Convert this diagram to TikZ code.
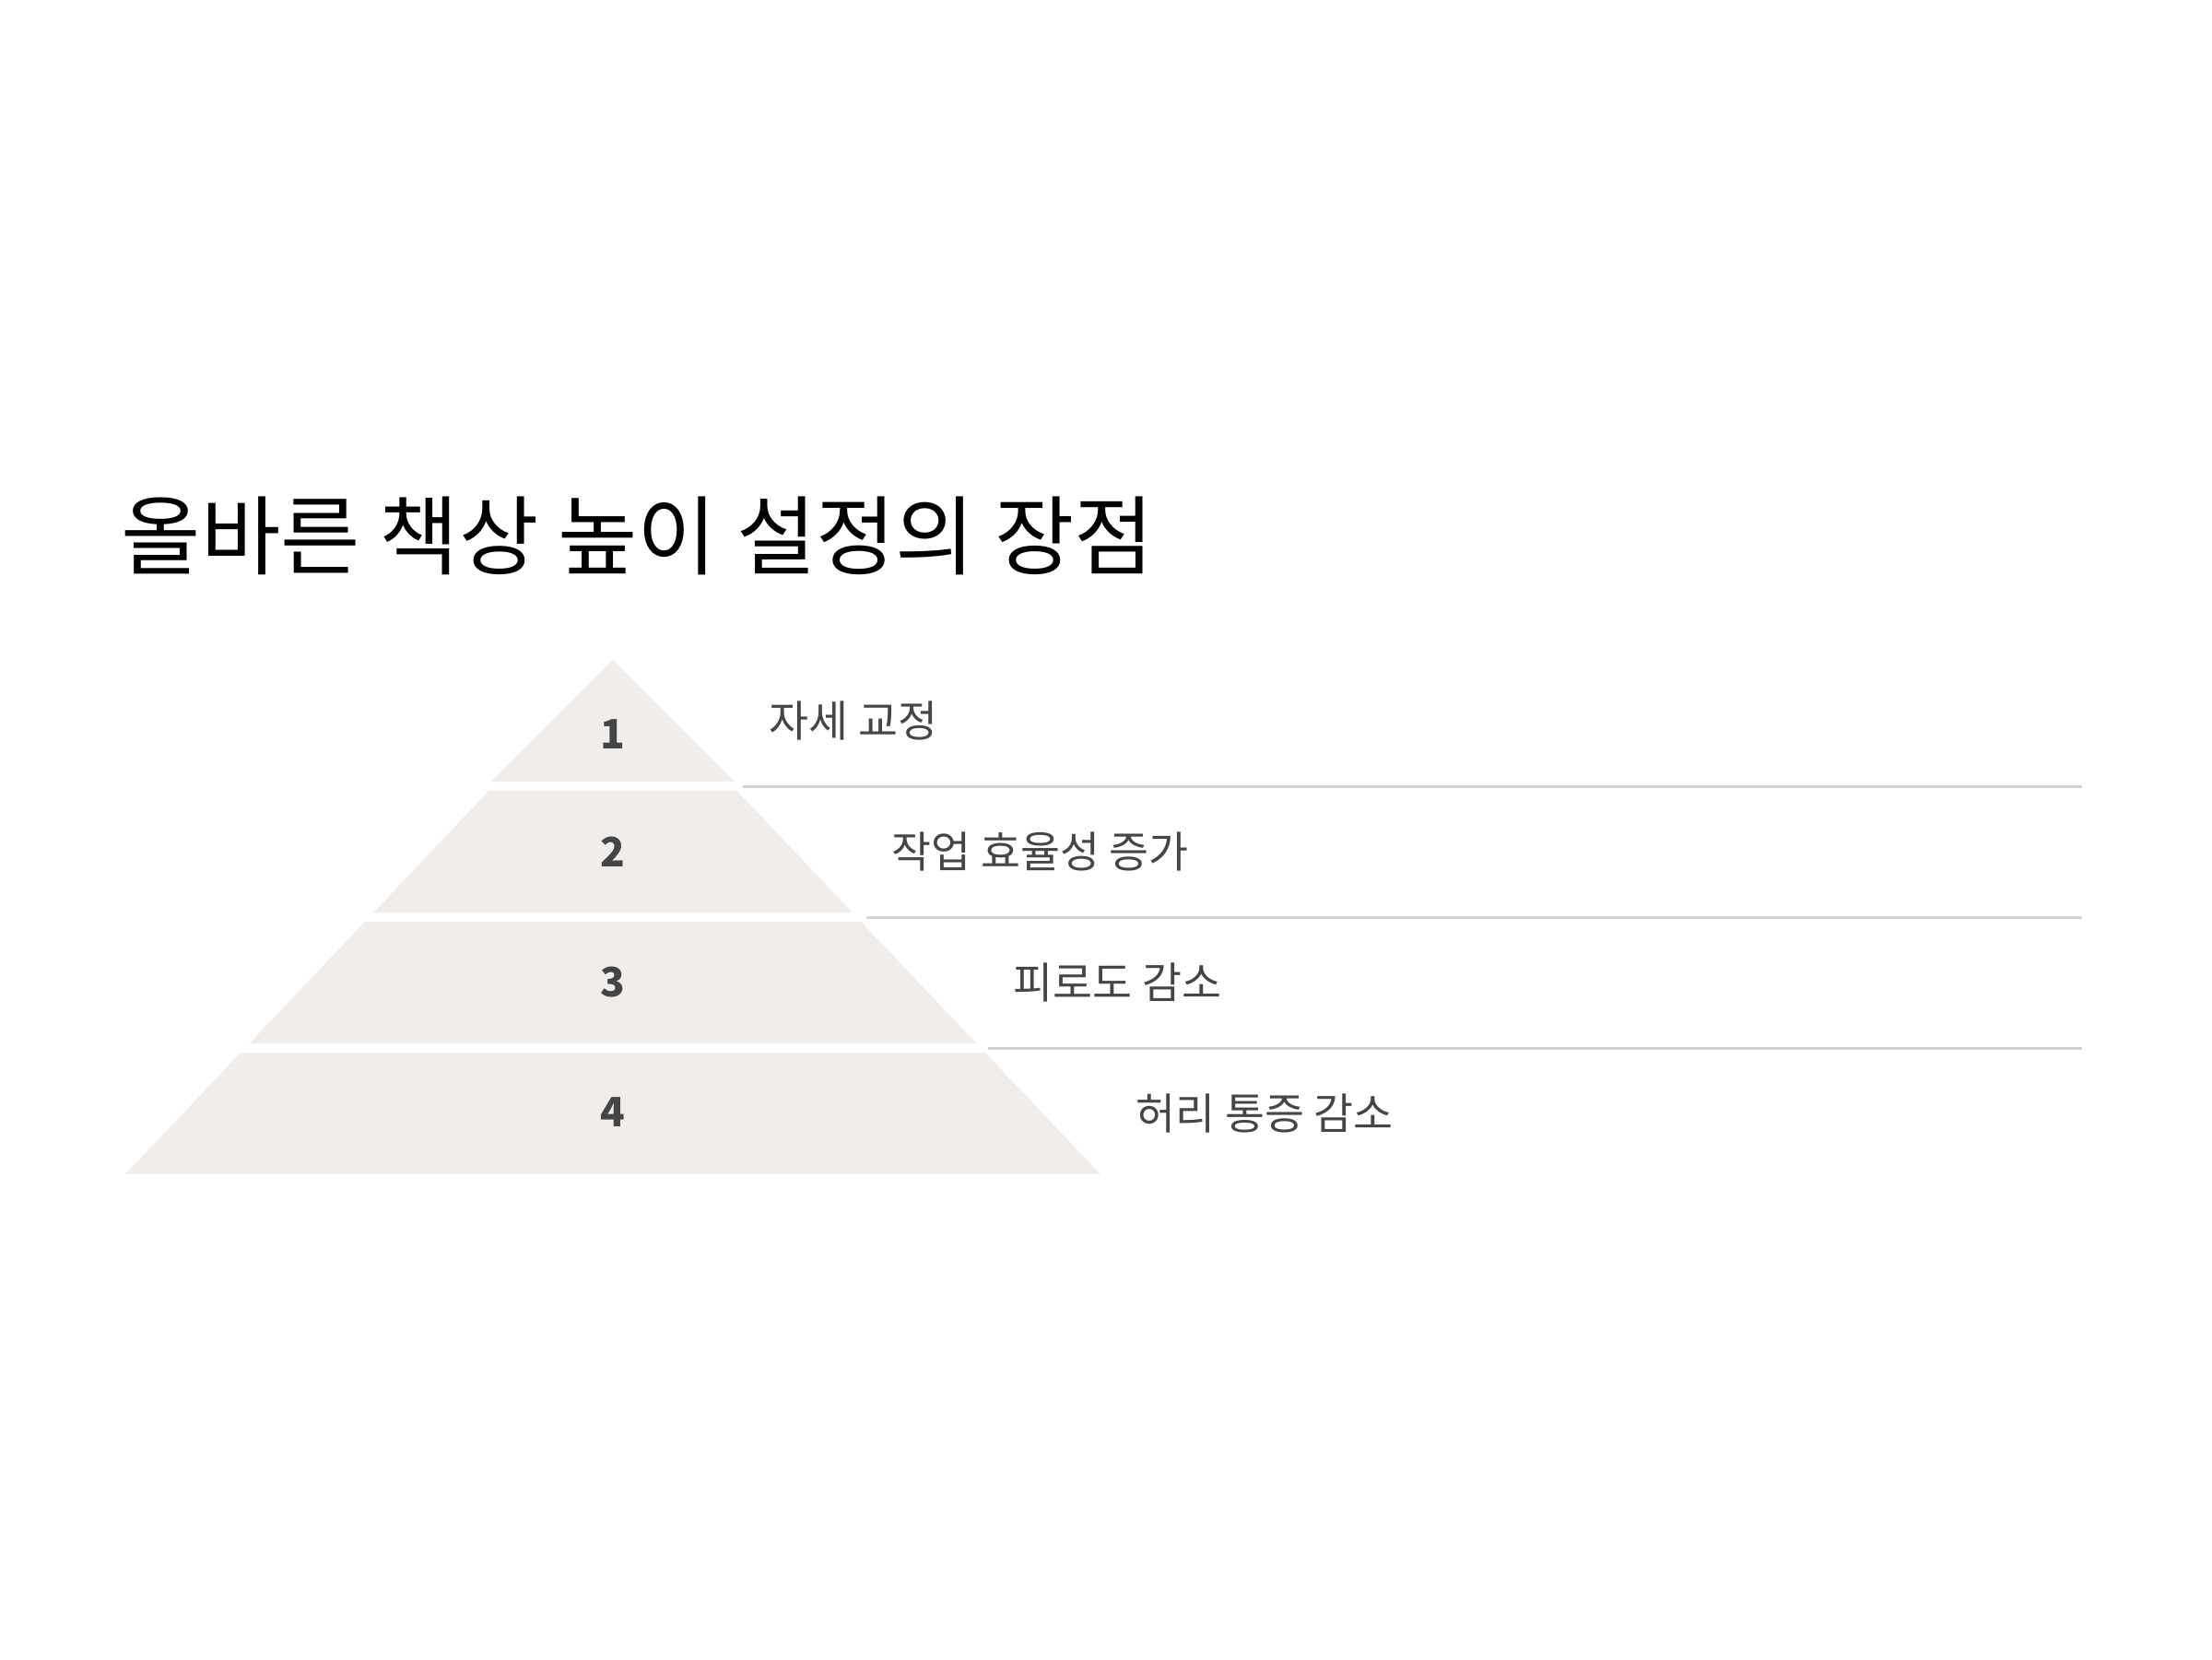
\documentclass[tikz,border=0pt]{standalone}
\usepackage{fontspec}
\setmainfont{Noto Sans CJK KR}
\definecolor{layerfill}{HTML}{F0EDEB}
\definecolor{rulegray}{HTML}{D5D1D1}
\definecolor{textgray}{HTML}{454545}

\begin{document}
\begin{tikzpicture}[
  title/.style={anchor=west, inner sep=0pt, font=\fontsize{26.7}{32}\selectfont},
  num/.style={text=textgray, font=\fontsize{12.5}{15}\selectfont\bfseries},
  label/.style={anchor=west, inner sep=0pt, text=textgray, font=\fontsize{13.3}{16}\selectfont},
  layer/.style={fill=layerfill, draw=none},
  sep/.style={draw=rulegray, line width=0.6pt}
]
\useasboundingbox (0,0) rectangle (24,-18);

\node[title] (title) at (1.31,-5.81) {올바른 책상 높이 설정의 장점};

% pyramid
\path[layer] (6.65,-7.16) -- (7.97,-8.48) -- (5.33,-8.48) -- cycle;
\path[layer] (5.304,-8.58) -- (7.996,-8.58) -- (9.248,-9.90) -- (4.052,-9.90) -- cycle;
\path[layer] (3.958,-10.00) -- (9.342,-10.00) -- (10.594,-11.32) -- (2.706,-11.32) -- cycle;
\path[layer] (2.612,-11.42) -- (10.688,-11.42) -- (11.94,-12.74) -- (1.36,-12.74) -- cycle;

\node[num] (n1) at (6.65,-7.97) {1};
\node[num] (n2) at (6.65,-9.24) {2};
\node[num] (n3) at (6.65,-10.66) {3};
\node[num] (n4) at (6.65,-12.07) {4};

\node[label] (l1) at (8.34,-7.82) {자세 교정};
\node[label] (l2) at (9.67,-9.24) {작업 효율성 증가};
\node[label] (l3) at (10.99,-10.66) {피로도 감소};
\node[label] (l4) at (12.32,-12.08) {허리 통증 감소};

\draw[sep] (8.06,-8.535) -- (22.59,-8.535);
\draw[sep] (9.40,-9.955) -- (22.59,-9.955);
\draw[sep] (10.72,-11.375) -- (22.59,-11.375);

\end{tikzpicture}
\end{document}
